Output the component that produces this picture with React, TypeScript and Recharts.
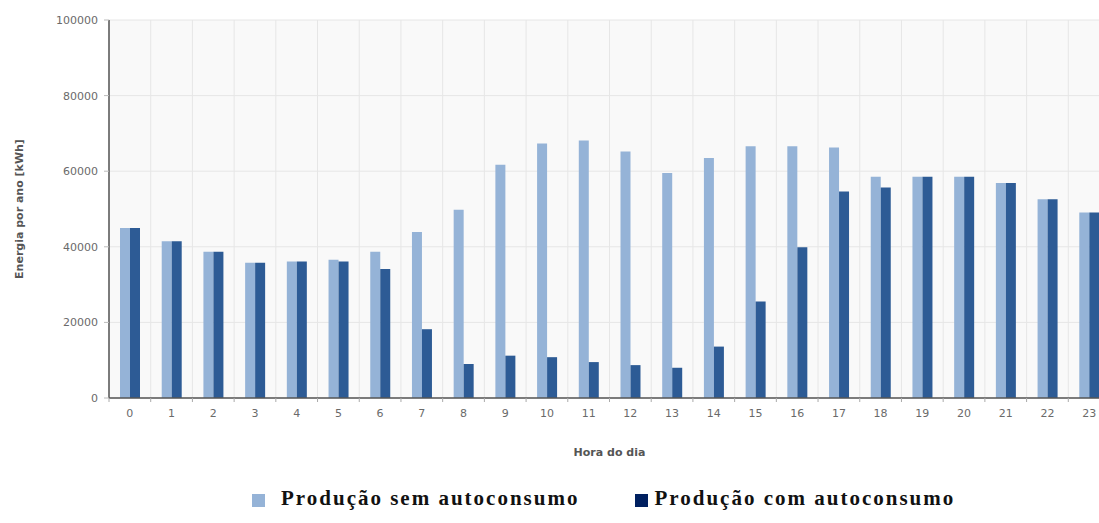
import { BarChart, Bar, XAxis, YAxis, CartesianGrid } from "recharts";

const hours = [0, 1, 2, 3, 4, 5, 6, 7, 8, 9, 10, 11, 12, 13, 14, 15, 16, 17, 18, 19, 20, 21, 22, 23];
const semAutoconsumo = [
  45000, 41500, 38700, 35800, 36100, 36600, 38700, 43900, 49800, 61700, 67300, 68100,
  65200, 59500, 63500, 66600, 66600, 66300, 58500, 58500, 58500, 56900, 52600, 49100,
];
const comAutoconsumo = [
  45000, 41500, 38700, 35800, 36100, 36100, 34100, 18200, 9000, 11200, 10800, 9500,
  8700, 8000, 13600, 25500, 39900, 54600, 55700, 58500, 58500, 56900, 52600, 49100,
];
const yTicks = [0, 20000, 40000, 60000, 80000, 100000];
// category boundaries, used for the vertical grid and the small x ticks
const boundaries = [...hours.map((h) => h - 0.5), hours[hours.length - 1] + 0.5];

const seriesNames = ["Produção sem autoconsumo", "Produção com autoconsumo"];
const barColors = ["#95B3D7", "#2D5B95"];
const legendColors = ["#95B3D7", "#002060"];

const data = hours.map((h, i) => ({
  hour: h,
  label: String(h),
  sem: semAutoconsumo[i],
  com: comAutoconsumo[i],
}));

const tickFont = { fill: "#6a6a6a", fontSize: 11, fontFamily: "DejaVu Sans" };

export default function App() {
  return (
    <div
      style={{
        position: "fixed",
        left: 0,
        top: 0,
        width: 1099,
        height: 523,
        overflow: "hidden",
        background: "#fff",
      }}
    >
      <BarChart
        width={1120}
        height={523}
        data={data}
        margin={{ top: 20, right: 10, bottom: 90, left: 0 }}
        barGap={0}
        barSize={10}
      >
        <CartesianGrid xAxisId="a_grid" stroke="#e6e6e6" fill="#f9f9f9" />
        <XAxis
          xAxisId="a_grid"
          dataKey="hour"
          type="number"
          domain={[boundaries[0], boundaries[boundaries.length - 1]]}
          ticks={boundaries}
          tickFormatter={() => ""}
          tickSize={4}
          tickLine={{ stroke: "#aaa" }}
          axisLine={{ stroke: "#555", strokeWidth: 1.5 }}
          height={5}
          allowDataOverflow
        />
        <XAxis
          xAxisId="b_cat"
          dataKey="label"
          axisLine={false}
          tickLine={false}
          tickSize={0}
          tickMargin={6}
          tick={tickFont}
          interval={0}
          height={30}
          label={{
            content: (props: any) => {
              const vb = props.viewBox;
              return (
                <text
                  x={vb.x + vb.width / 2}
                  y={vb.y + 53}
                  textAnchor="middle"
                  fill="#555"
                  fontSize={11}
                  fontWeight="bold"
                  fontFamily="DejaVu Sans"
                >
                  Hora do dia
                </text>
              );
            },
          }}
        />
        <YAxis
          domain={[0, 100000]}
          ticks={yTicks}
          width={109}
          tick={tickFont}
          tickSize={5}
          tickMargin={6}
          tickLine={{ stroke: "#bbb" }}
          axisLine={{ stroke: "#555", strokeWidth: 1.5 }}
          label={{
            content: (props: any) => {
              const vb = props.viewBox;
              const cx = 19;
              const cy = vb.y + vb.height / 2;
              return (
                <text
                  x={cx}
                  y={cy}
                  transform={`rotate(-90 ${cx} ${cy})`}
                  textAnchor="middle"
                  dominantBaseline="central"
                  fill="#555"
                  fontSize={11}
                  fontWeight="bold"
                  fontFamily="DejaVu Sans"
                >
                  Energia por ano [kWh]
                </text>
              );
            },
          }}
        />
        <Bar xAxisId="b_cat" dataKey="sem" name={seriesNames[0]} fill={barColors[0]} isAnimationActive={false} />
        <Bar xAxisId="b_cat" dataKey="com" name={seriesNames[1]} fill={barColors[1]} isAnimationActive={false} />
      </BarChart>

      {/* legend, drawn as in the document below the chart */}
      <div
        style={{
          position: "absolute",
          top: 488,
          left: 252,
          display: "flex",
          alignItems: "center",
          fontFamily: "Liberation Serif",
          fontWeight: "bold",
          fontSize: 21,
          lineHeight: "21px",
          letterSpacing: 2,
          color: "#111",
          whiteSpace: "nowrap",
        }}
      >
        {seriesNames.map((name, i) => (
          <div key={name} style={{ display: "flex", alignItems: "center", marginRight: 56 }}>
            <span
              style={{
                display: "inline-block",
                width: 13,
                height: 13,
                background: legendColors[i],
                marginRight: i === 0 ? 16 : 6,
                marginTop: 4,
              }}
            />
            <span>{name}</span>
          </div>
        ))}
      </div>
    </div>
  );
}
